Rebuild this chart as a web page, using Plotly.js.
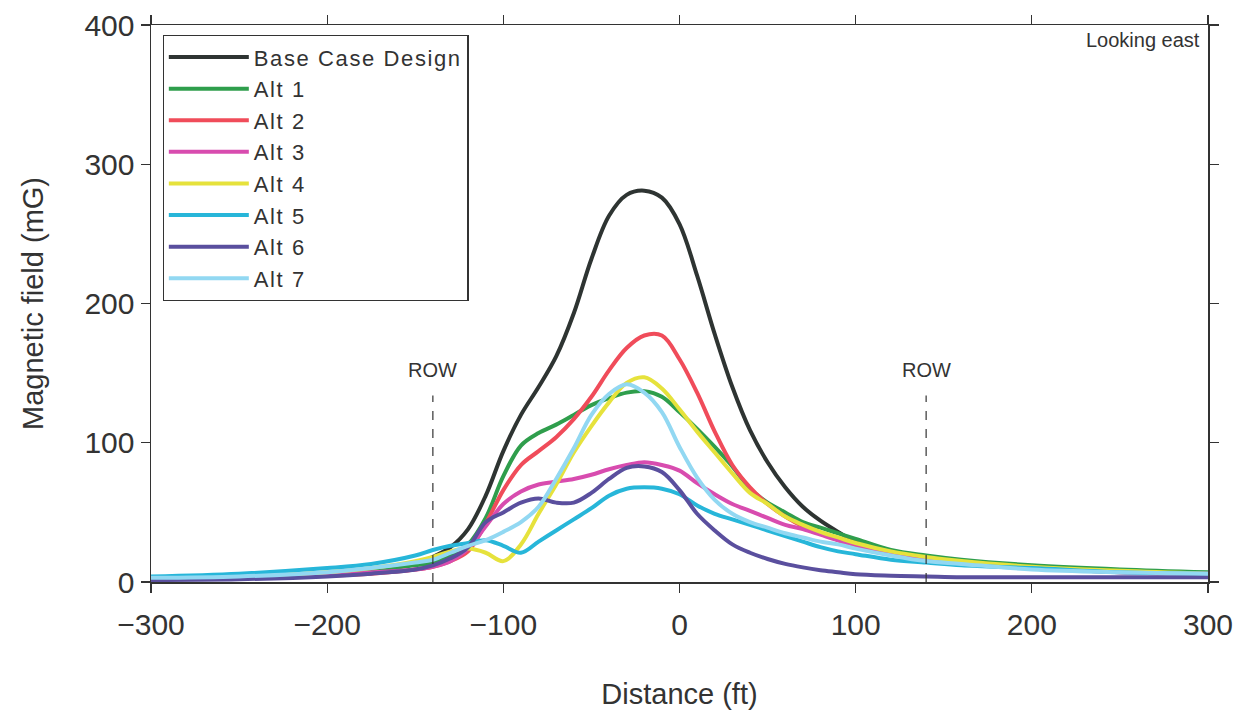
<!DOCTYPE html>
<html>
<head>
<meta charset="utf-8">
<script src="https://cdn.plot.ly/plotly-3.0.1.min.js"></script>
<style>
html,body{margin:0;padding:0;background:#fff}
#chart{width:1241px;height:715px}
.legendtext{letter-spacing:1.6px}
</style>
</head>
<body>
<div id="chart"></div>
<script>
// Distance (ft)
const distance = [-300,-250,-200,-175,-150,-140,-130,-120,-110,-100,-90,-80,-70,-60,-50,-40,-30,-20,-10,0,10,20,30,40,50,60,70,80,90,100,120,140,160,200,250,300];

// Magnetic field (mG)
const baseCase = [2,3,5,8,13,18,25,38,62,94,120,140,162,193,232,263,278,281,276,257,220,178,140,109,86,68,54,44,36,29,22,18,15,11,8,6];
const alt1 = [3,4,6,9,12,14,19,27,46,76,98,107,113,120,127,132,136,137,133,122,110,97,83,67,57,50,43,39,35,31,23,19,16,12,9,7];
const alt2 = [2,3,4.5,6,9,11,15,22,42,66,84,94,104,117,133,152,168,177,177,160,136,108,84,68,56,47,40,35,30,25,20,16,14,10,7,6];
const alt3 = [2,3,5,7,9,11,15,24,40,56,65,70,72,74,77,81,84,86,84,80,71,63,56,51,46,41,38,34,30,27,21,17,14,10,7,6];
const alt4 = [3,4,7,10,15,18,22,24,21,15,27,49,70,93,112,129,143,147,139,124,108,93,78,64,56,47,41,36,32,28,22,18,15,11,8,6];
const alt5 = [4,6,10,13,19,23,26,28,30,26,21,29,37,45,53,62,67,68,67,63,55,49,45,41,37,33,29,25,22,20,16,14,12,10,7,6];
const alt6 = [1.5,2,4,6,9,12,17,25,43,50,57,60,57,57,64,74,82,83,79,66,49,37,27,21,16.5,13,10.5,8.5,7,5.5,4.5,4,3.5,3.5,3.5,3.5];
const alt7 = [3,4,7,10,14,16,21,26,30,36,43,54,74,96,120,135,142,136,122,97,75,59,49,43,39,35,32,29,27,24,19,15,13,9,7,6];

const seriesNames = ["Base Case Design","Alt 1","Alt 2","Alt 3","Alt 4","Alt 5","Alt 6","Alt 7"];
const seriesValues = [baseCase, alt1, alt2, alt3, alt4, alt5, alt6, alt7];
const seriesColors = ["#2e3432","#2f9e4c","#f04c5a","#d84caf","#e6e23c","#27b6d9","#5a4f9e","#92d8f2"];

// Right-of-way markers
const rowX = [-140, 140];
const rowLineTop = 134;
const rowLabelY = 152;
const rowLabel = "ROW";

const xTicks = [-300,-200,-100,0,100,200,300];
const xTickText = ["\u2212300","\u2212200","\u2212100","0","100","200","300"];
const yTicks = [0,100,200,300,400];

const traces = seriesNames.map((n,i)=>({
  x: distance, y: seriesValues[i], name: n, type: "scatter", mode: "lines",
  line: {color: seriesColors[i], width: 4, shape: "spline", smoothing: 1}
}));

const FONT = "Liberation Sans, Arial, Helvetica, sans-serif";
const TXT = "#333";

const shapes = rowX.map(x=>({
  type:"line", xref:"x", yref:"y", x0:x, x1:x, y0:0, y1:rowLineTop,
  line:{color:"#333", width:1.2, dash:"dash"}
}));
const annotations = rowX.map(x=>({
  x:x, y:rowLabelY, xref:"x", yref:"y", text:rowLabel, showarrow:false,
  font:{family:FONT, size:20, color:TXT}
}));
annotations.push({
  x:1, y:1, xref:"paper", yref:"paper", xanchor:"right", yanchor:"top",
  xshift:-6, yshift:-2, text:"Looking east", showarrow:false,
  font:{family:FONT, size:20, color:TXT}
});

const layout = {
  width:1241, height:715,
  margin:{l:151, r:33, t:25, b:133},
  paper_bgcolor:"#fff", plot_bgcolor:"#fff",
  font:{family:FONT, color:TXT},
  showlegend:true,
  legend:{
    x:0.011, y:0.982, xanchor:"left", yanchor:"top",
    bordercolor:"#333", borderwidth:1.2, bgcolor:"#fff",
    font:{family:FONT, size:22, color:TXT},
    itemwidth:80, tracegroupgap:0
  },
  xaxis:{
    range:[-300,300], tickvals:xTicks, ticktext:xTickText,
    ticks:"outside", ticklen:9, tickwidth:1.2, tickcolor:"#333",
    showline:true, linecolor:"#333", linewidth:1.5, mirror:"ticks",
    showgrid:false, zeroline:false, ticklabelstandoff:6,
    tickfont:{family:FONT, size:30, color:TXT},
    title:{text:"Distance (ft)", font:{family:FONT, size:29, color:TXT}, standoff:44}
  },
  yaxis:{
    range:[0,400], tickvals:yTicks,
    ticks:"outside", ticklen:9, tickwidth:1.2, tickcolor:"#333",
    showline:true, linecolor:"#333", linewidth:1.5, mirror:"ticks",
    showgrid:false, zeroline:false,
    tickfont:{family:FONT, size:30, color:TXT},
    title:{text:"Magnetic field (mG)", font:{family:FONT, size:29, color:TXT}, standoff:32}
  },
  shapes:shapes,
  annotations:annotations
};

Plotly.newPlot("chart", traces, layout, {displayModeBar:false, staticPlot:true});
</script>
</body>
</html>
